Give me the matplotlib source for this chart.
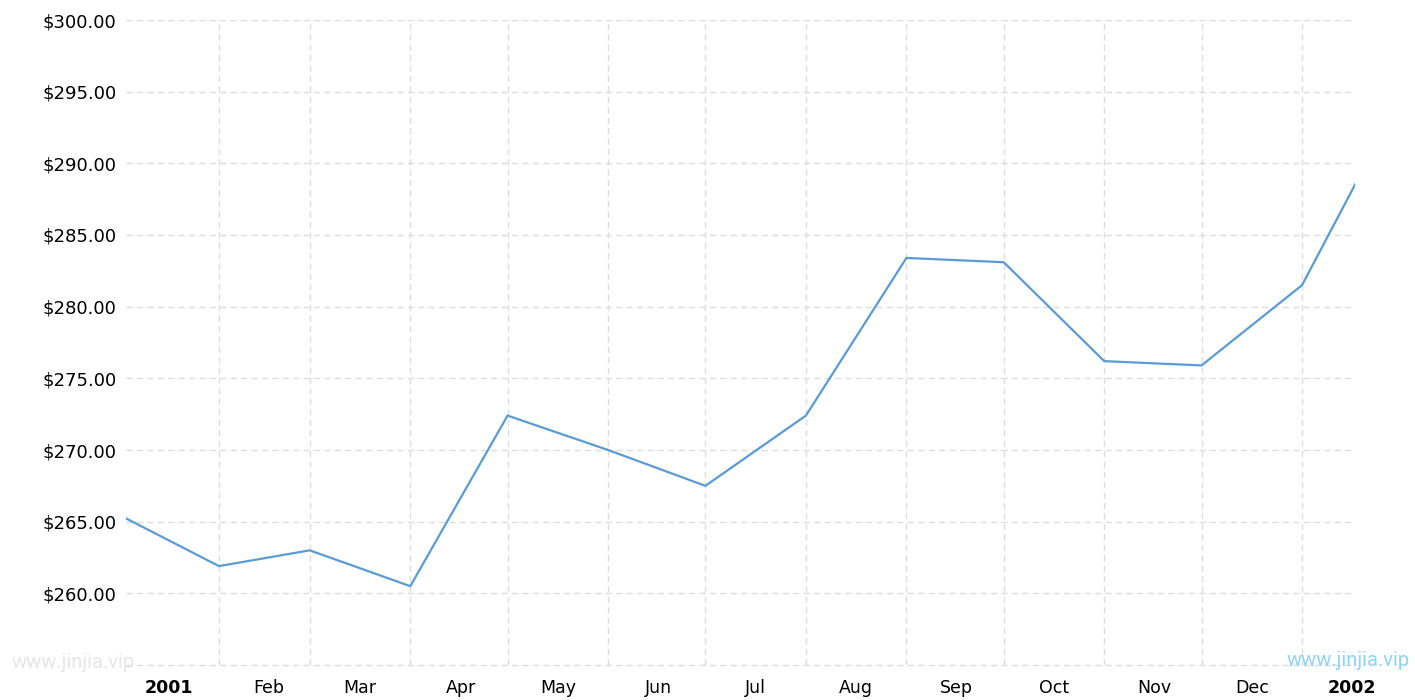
import matplotlib
matplotlib.use("Agg")
import matplotlib.pyplot as plt
import matplotlib.dates as mdates
import matplotlib.ticker as mticker
import pandas as pd
import numpy as np

# monthly values (first of each month)
months = ["2001-01-01", "2001-02-01", "2001-03-01", "2001-04-01", "2001-05-01",
          "2001-06-01", "2001-07-01", "2001-08-01", "2001-09-01", "2001-10-01",
          "2001-11-01", "2001-12-01", "2002-01-01", "2002-02-01"]
prices = [265.5, 261.9, 263.0, 260.5, 272.4, 270.0, 267.5, 272.4,
          283.4, 283.1, 276.2, 275.9, 281.5, 294.8]

tick_labels = ["2001", "Feb", "Mar", "Apr", "May", "Jun", "Jul", "Aug",
               "Sep", "Oct", "Nov", "Dec", "2002"]
bold_labels = ["2001", "2002"]

dates = pd.to_datetime(months)

fig = plt.figure(figsize=(14.15, 7.0), dpi=100)
ax = fig.add_axes([126 / 1415, 35 / 700, (1355 - 126) / 1415, (665 - 20) / 700])

ax.plot(dates, prices, color="#5b9bd5", lw=1.6, solid_joinstyle="miter")

ax.set_xlim(pd.Timestamp("2001-01-03 08:00"), pd.Timestamp("2002-01-17 08:00"))
ax.set_ylim(255, 300)

grid_kw = dict(color="#dddddd", lw=1.0, linestyle=(0, (4.5, 3)))

# horizontal grid at $5 steps, plus the dashed baseline
ax.set_yticks(np.arange(260, 301, 5))
ax.yaxis.set_major_formatter(mticker.FuncFormatter(lambda v, p: "${:.2f}".format(v)))
ax.grid(axis="y", **grid_kw)
ax.axhline(255, clip_on=False, **grid_kw)

# vertical grid at month starts, labels centred on each month
ax.xaxis.set_major_locator(mdates.MonthLocator())
ax.xaxis.set_major_formatter(mticker.NullFormatter())
ax.grid(axis="x", which="major", **grid_kw)

mids = [d + pd.Timedelta(days=15.5) for d in dates[:len(tick_labels)]]
ax.set_xticks(mids, minor=True)
ax.set_xticklabels(tick_labels, minor=True)
for lbl in ax.get_xticklabels(minor=True):
    if lbl.get_text() in bold_labels:
        lbl.set_fontweight("bold")

ax.tick_params(axis="x", which="both", length=0, pad=10, labelsize=12.5)
ax.tick_params(axis="y", length=0, pad=7, labelsize=13)

for s in ax.spines.values():
    s.set_visible(False)

# watermarks
fig.text(12 / 1415, 1 - 662 / 700, "www.jinjia.vip", color="#e6e6e6",
         fontsize=14.5, family="Roboto", va="center", ha="left")
fig.text(1410 / 1415, 1 - 660 / 700, "www.jinjia.vip", color="#8fd3f7",
         fontsize=14.5, family="Roboto", va="center", ha="right")

fig.savefig("out.png", dpi=100)
